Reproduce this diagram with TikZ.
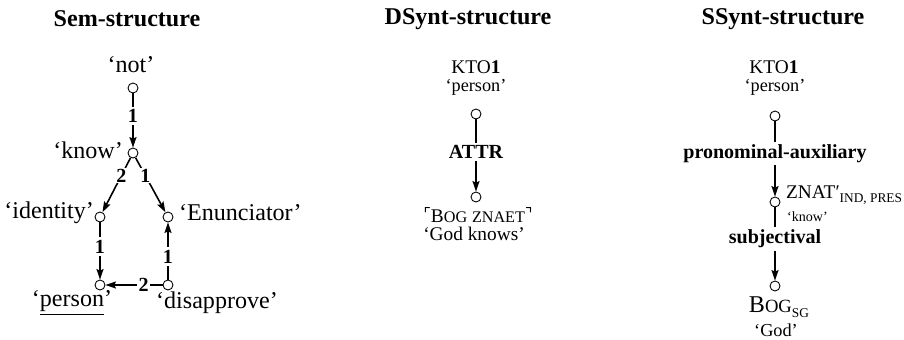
\documentclass[tikz,border=0pt]{standalone}
\usepackage{fontspec}
\setmainfont{Liberation Serif}
\newfontfamily\cornerfont{DejaVu Sans}
\usetikzlibrary{arrows.meta, positioning}
\newcommand{\smallcap}[1]{{\fontsize{9.2}{10}\selectfont #1}}
\newcommand{\bigsmallcap}[1]{{\fontsize{10.6}{12}\selectfont #1}}
\newcommand{\gramsub}[1]{\raisebox{-0.45ex}{\fontsize{7.6}{9}\selectfont #1}}
\newcommand{\cornerl}{\raisebox{0.3ex}{\cornerfont\fontsize{9}{10}\selectfont ⌜}}
\newcommand{\cornerr}{\raisebox{0.3ex}{\cornerfont\fontsize{9}{10}\selectfont ⌝}}
\tikzset{
  % titles and labels
  title-text/.style={font=\bfseries\fontsize{13.7}{16}\selectfont, inner sep=1pt},
  sem-text/.style={font=\fontsize{13.7}{16}\selectfont, inner sep=1pt},
  syn-text/.style={font=\fontsize{11}{13}\selectfont, inner sep=1pt},
  gloss-text/.style={font=\fontsize{10.4}{12}\selectfont, inner sep=1pt},
  tiny-gloss/.style={font=\fontsize{8}{9}\selectfont, inner sep=1pt},
  % graph
  node-circ/.style={circle, draw, line width=0.5pt, minimum size=0.2cm, inner sep=0pt},
  dep-arrow/.style={-{Stealth[length=6pt, width=4pt, inset=1pt]}, line width=0.9pt},
  rel-label/.style={fill=white, inner sep=1.5pt, font=\bfseries\fontsize{11.4}{13}\selectfont}
}
\begin{document}
\begin{tikzpicture}[x=0.02cm, y=-0.02cm]
    \useasboundingbox (0,0) rectangle (904,339);

    % --- Titles ---
    \node[title-text] (title-sem) at (127,19) {Sem-structure};
    \node[title-text] (title-dsynt) at (468,19) {DSynt-structure};
    \node[title-text] (title-ssynt) at (783,19) {SSynt-structure};

    % --- Sem-structure ---
    \node[node-circ] (sem-not) at (133,88) {};
    \node[node-circ] (sem-know) at (133,153) {};
    \node[node-circ] (sem-identity) at (100,217) {};
    \node[node-circ] (sem-enunc) at (168,217) {};
    \node[node-circ] (sem-person) at (100,285) {};
    \node[node-circ] (sem-disappr) at (168,285) {};
    \node[sem-text] (txt-not) at (131,65) {‘not’};
    \node[sem-text, anchor=east] (txt-know) at (125,150) {‘know’};
    \node[sem-text, anchor=east] (txt-identity) at (96,213) {‘identity’};
    \node[sem-text, anchor=west] (txt-enunc) at (177,213) {‘Enunciator’};
    \node[sem-text] (txt-person) at (72,303) {‘\underline{person}’};
    \node[sem-text] (txt-disappr) at (217,303) {‘disapprove’};
    \draw[dep-arrow] (sem-not) -- node[rel-label, pos=0.42] {1} (sem-know);
    \draw[dep-arrow] (sem-know) -- node[rel-label, pos=0.33, inner sep=0.5pt] {2} (sem-identity);
    \draw[dep-arrow] (sem-know) -- node[rel-label, pos=0.33, inner sep=0.5pt] {1} (sem-enunc);
    \draw[dep-arrow] (sem-identity) -- node[rel-label, pos=0.42] {1} (sem-person);
    \draw[dep-arrow] (sem-disappr) -- node[rel-label, pos=0.4] {1} (sem-enunc);
    \draw[dep-arrow] (sem-disappr) -- node[rel-label, pos=0.33, inner sep=1pt] {2} (sem-person);

    % --- DSynt-structure ---
    \node[syn-text] (dsynt-kto) at (476,67) {KTO\textbf{1}};
    \node[gloss-text] (dsynt-kto-gl) at (476,87) {‘person’};
    \node[node-circ] (dsynt-top) at (476,114) {};
    \node[node-circ] (dsynt-bot) at (476,197) {};
    \node[syn-text] (dsynt-bog) at (478,215) {\cornerl B\smallcap{OG} \smallcap{ZNAET}\cornerr};
    \node[syn-text] (dsynt-bog-gl) at (474,234) {‘God knows’};
    \draw[dep-arrow] (dsynt-top) -- node[rel-label, pos=0.45] {ATTR} (dsynt-bot);

    % --- SSynt-structure ---
    \node[syn-text] (ssynt-kto) at (774,67) {KTO\textbf{1}};
    \node[gloss-text] (ssynt-kto-gl) at (775,87) {‘person’};
    \node[node-circ] (ssynt-top) at (775,116) {};
    \node[node-circ] (ssynt-mid) at (775,202) {};
    \node[node-circ] (ssynt-bot) at (775,286) {};
    \node[syn-text, anchor=west] (ssynt-znat) at (784,195) {ZNAT′\gramsub{IND, PRES}};
    \node[tiny-gloss, anchor=west] (ssynt-znat-gl) at (785,217) {‘know’};
    \node[sem-text] (ssynt-bog) at (779,307) {B\bigsmallcap{OG}\gramsub{SG}};
    \node[gloss-text] (ssynt-bog-gl) at (776,330) {‘God’};
    \draw[dep-arrow] (ssynt-top) -- node[rel-label, pos=0.43] {pronominal-auxiliary} (ssynt-mid);
    \draw[dep-arrow] (ssynt-mid) -- node[rel-label, pos=0.43] {subjectival} (ssynt-bot);
\end{tikzpicture}
\end{document}
